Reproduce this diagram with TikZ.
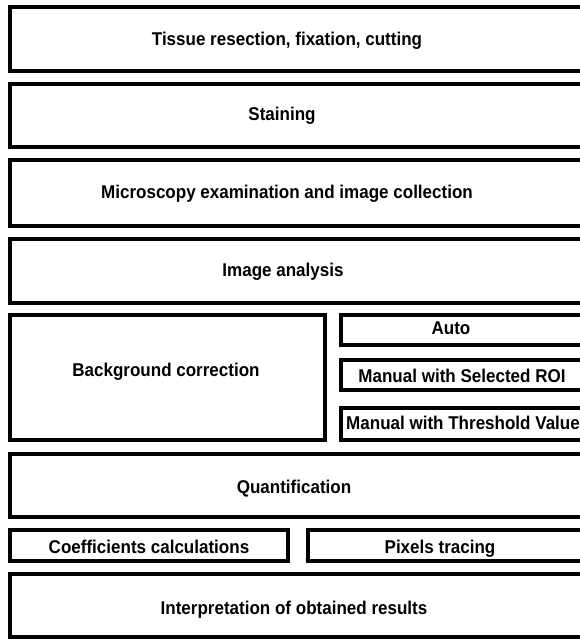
\documentclass[tikz,border=0pt]{standalone}
\usepackage{fontspec}
\setmainfont{Liberation Sans}[FakeStretch=0.92]
\usepackage{tikz}
\usetikzlibrary{positioning}
\tikzset{
    %Define style for the step frames
    stepbox/.style={
           rectangle,
           draw=black, line width=3.5pt,
           anchor=north west,
           inner sep=0pt, outer sep=0pt},
    %Define style for the step texts
    steptext/.style={
           font=\bfseries\fontsize{18.5}{21}\selectfont,
           anchor=base,
           inner sep=0pt}
}
\begin{document}
\begin{tikzpicture}[x=1pt,y=-1pt]
\useasboundingbox (0,0) rectangle (580,640);

 %frames
\node[stepbox, minimum width=590pt, minimum height=64pt] (tissue) at (10,7) {};
\node[stepbox, minimum width=590pt, minimum height=63pt] (staining) at (10,84) {};
\node[stepbox, minimum width=590pt, minimum height=66pt] (microscopy) at (10,160) {};
\node[stepbox, minimum width=590pt, minimum height=64pt] (analysis) at (10,239) {};
\node[stepbox, minimum width=315pt, minimum height=125pt] (background) at (10,315) {};
\node[stepbox, minimum width=260pt, minimum height=30pt] (auto) at (341,315) {};
\node[stepbox, minimum width=260pt, minimum height=30pt] (roi) at (341,360) {};
\node[stepbox, minimum width=260pt, minimum height=32pt] (threshold) at (341,408) {};
\node[stepbox, minimum width=590pt, minimum height=63pt] (quant) at (10,454) {};
\node[stepbox, minimum width=278pt, minimum height=31pt] (coeff) at (10,530) {};
\node[stepbox, minimum width=300pt, minimum height=31pt] (pixels) at (308,530) {};
\node[stepbox, minimum width=590pt, minimum height=63pt] (interp) at (10,574) {};

 %texts
\node[steptext] (tissuetext) at (287,45) {Tissue resection, fixation, cutting};
\node[steptext] (stainingtext) at (282,120) {Staining};
\node[steptext] (microscopytext) at (287,198) {Microscopy examination and image collection};
\node[steptext] (analysistext) at (283,276) {Image analysis};
\node[steptext] (backgroundtext) at (166,376) {Background correction};
\node[steptext] (autotext) at (451,334) {Auto};
\node[steptext] (roitext) at (462,382) {Manual with Selected ROI};
\node[steptext] (thresholdtext) at (463,429) {Manual with Threshold Value};
\node[steptext] (quanttext) at (294,493) {Quantification};
\node[steptext] (coefftext) at (149,553) {Coefficients calculations};
\node[steptext] (pixelstext) at (440,553) {Pixels tracing};
\node[steptext] (interptext) at (294,614) {Interpretation of obtained results};

\end{tikzpicture}
\end{document}
